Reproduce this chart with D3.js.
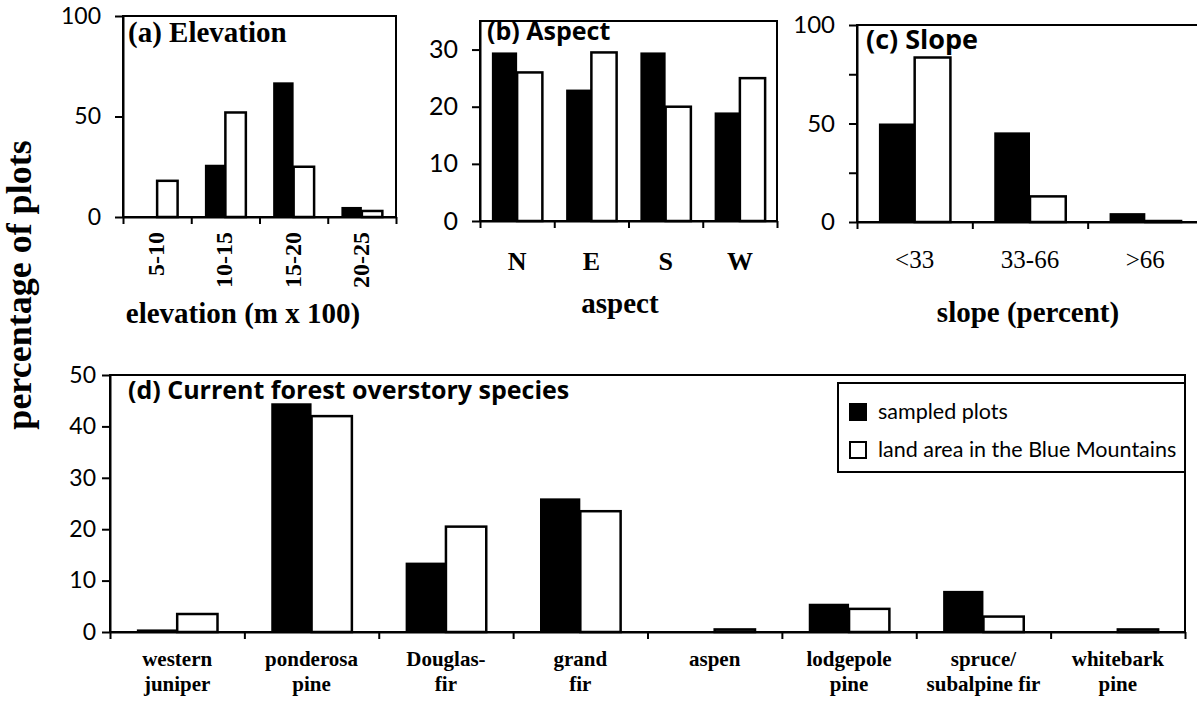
<!DOCTYPE html>
<html>
<head>
<meta charset="utf-8">
<script src="https://cdn.jsdelivr.net/npm/d3@7"></script>
<style>
  body { margin: 0; background: white; }
  svg { display: block; }
</style>
</head>
<body>
<svg id="canvas" width="1197" height="715"></svg>
<script>
// ************************************************************************************** //
// Data (percentage of plots)

var elev_cats = ['5-10', '10-15', '15-20', '20-25'];
var elev_sampled = [0, 26, 67, 5];
var elev_land = [18, 52, 25, 3];

var aspect_cats = ['N', 'E', 'S', 'W'];
var aspect_sampled = [29.5, 23, 29.5, 19];
var aspect_land = [26, 29.5, 20, 25];

var slope_cats = ['<33', '33-66', '>66'];
var slope_sampled = [50, 45.5, 4.5];
var slope_land = [83.5, 13, 0.5];

var species_cats = ['western juniper', 'ponderosa pine', 'Douglas-fir', 'grand fir', 'aspen', 'lodgepole pine', 'spruce/subalpine fir', 'whitebark pine'];
var species_lines = [['western', 'juniper'], ['ponderosa', 'pine'], ['Douglas-', 'fir'], ['grand', 'fir'], ['aspen'], ['lodgepole', 'pine'], ['spruce/', 'subalpine fir'], ['whitebark', 'pine']];
var species_sampled = [0.5, 44.5, 13.5, 26, 0, 5.5, 8, 0];
var species_land = [3.5, 42, 20.5, 23.5, 0.5, 4.5, 3, 0.5];

var series_names = ['sampled plots', 'land area in the Blue Mountains'];

var serif = '"Liberation Serif", "Times New Roman", serif';
var sans = 'Lato, "Open Sans", sans-serif';
var wide_sans = '"Open Sans", Lato, sans-serif';

var svg = d3.select('#canvas');

// ************************************************************************************** //
// One bar panel

function drawPanel(p){
  var n = p.cats.length;
  var x = d3.scaleBand().domain(p.cats).range([p.x0, p.x1]);
  var edges = d3.scaleLinear().domain([0, n]).range([p.x0, p.x1]);
  var y = d3.scaleLinear().domain([0, p.ymax]).range([p.y0, p.ytop]);
  var bw = x.bandwidth() * p.bar;
  var g = svg.append('g');

  // plot area frame
  g.append('rect')
    .attr('x', p.x0).attr('y', y(p.ymax))
    .attr('width', p.x1 - p.x0).attr('height', y(0) - y(p.ymax))
    .style('fill', 'none').style('stroke', '#000').style('stroke-width', 2);

  // bars
  var rows = p.cats.map(function(c, i){ return { cat: c, s: p.sampled[i], l: p.land[i] }; });
  g.selectAll('rect.sampled').data(rows).join('rect')
    .attr('class', 'sampled')
    .attr('x', function(d){ return x(d.cat) + x.bandwidth()/2 - bw; })
    .attr('y', function(d){ return y(d.s); })
    .attr('width', bw)
    .attr('height', function(d){ return y(0) - y(d.s); })
    .style('fill', '#000');
  g.selectAll('rect.land').data(rows).join('rect')
    .attr('class', 'land')
    .attr('x', function(d){ return x(d.cat) + x.bandwidth()/2; })
    .attr('y', function(d){ return y(d.l); })
    .attr('width', bw)
    .attr('height', function(d){ return y(0) - y(d.l); })
    .style('fill', '#fff').style('stroke', '#000').style('stroke-width', 2.5);

  // y axis
  var ya = g.append('g').attr('transform', 'translate(' + p.x0 + ',0)')
    .call(d3.axisLeft(y).tickValues(p.ticks).tickSize(8).tickSizeOuter(0).tickPadding(p.pad || 14)
      .tickFormat(function(v){ return p.labels.indexOf(v) >= 0 ? v : ''; }));
  ya.selectAll('text').style('font-family', sans).style('font-size', p.tickFont + 'px').style('fill', '#000');
  ya.selectAll('line, path').style('stroke', '#000').style('stroke-width', 2);

  // x axis, ticks between categories
  var xa = g.append('g').attr('transform', 'translate(0,' + y(0) + ')')
    .call(d3.axisBottom(edges).ticks(n).tickSize(7).tickSizeOuter(0).tickFormat(''));
  xa.selectAll('line, path').style('stroke', '#000').style('stroke-width', 2);

  // title
  g.append('text').attr('x', p.titleX).attr('y', p.titleY)
    .style('font-family', p.titleFamily).style('font-weight', 'bold').style('font-size', p.titleFont + 'px')
    .text(p.title);

  return { g: g, x: x, y: y };
}

function axisTitle(g, x, y, label){
  g.append('text').attr('x', x).attr('y', y).attr('text-anchor', 'middle')
    .style('font-family', serif).style('font-weight', 'bold').style('font-size', '29px')
    .text(label);
}

// ************************************************************************************** //
// (a) Elevation

var pa = drawPanel({ cats: elev_cats, sampled: elev_sampled, land: elev_land,
  x0: 123, x1: 396, y0: 217, ytop: 16, ymax: 100, bar: 0.3,
  ticks: [0, 50, 100], labels: [0, 50, 100], tickFont: 23,
  title: '(a) Elevation', titleX: 128, titleY: 42, titleFont: 29, titleFamily: serif });

pa.g.selectAll('text.cat').data(elev_cats).join('text')
  .attr('class', 'cat')
  .attr('transform', function(d){ return 'translate(' + (pa.x(d) + pa.x.bandwidth()/2 + 7) + ',232) rotate(-90)'; })
  .attr('text-anchor', 'end')
  .style('font-family', serif).style('font-weight', 'bold').style('font-size', '24px')
  .text(function(d){ return d; });

axisTitle(pa.g, 243, 323, 'elevation (m x 100)');

// ************************************************************************************** //
// (b) Aspect

var pb = drawPanel({ cats: aspect_cats, sampled: aspect_sampled, land: aspect_land,
  x0: 480, x1: 777, y0: 221, ytop: 21, ymax: 35, bar: 0.34,
  ticks: [0, 10, 20, 30], labels: [0, 10, 20, 30], tickFont: 25,
  title: '(b) Aspect', titleX: 487, titleY: 40, titleFont: 25, titleFamily: wide_sans });

pb.g.selectAll('text.cat').data(aspect_cats).join('text')
  .attr('class', 'cat')
  .attr('x', function(d){ return pb.x(d) + pb.x.bandwidth()/2; })
  .attr('y', 270).attr('text-anchor', 'middle')
  .style('font-family', serif).style('font-weight', 'bold').style('font-size', '26px')
  .text(function(d){ return d; });

axisTitle(pb.g, 620, 313, 'aspect');

// ************************************************************************************** //
// (c) Slope

var pc = drawPanel({ cats: slope_cats, sampled: slope_sampled, land: slope_land,
  x0: 857, x1: 1203, y0: 222, ytop: 25, ymax: 100, bar: 0.31,
  ticks: [0, 25, 50, 75, 100], labels: [0, 50, 100], tickFont: 24,
  title: '(c) Slope', titleX: 866, titleY: 49, titleFont: 27, titleFamily: wide_sans });

pc.g.selectAll('text.cat').data(slope_cats).join('text')
  .attr('class', 'cat')
  .attr('x', function(d){ return pc.x(d) + pc.x.bandwidth()/2; })
  .attr('y', 268).attr('text-anchor', 'middle')
  .style('font-family', serif).style('font-size', '25px')
  .text(function(d){ return d; });

axisTitle(pc.g, 1028, 322, 'slope (percent)');

// ************************************************************************************** //
// (d) Current forest overstory species

var pd = drawPanel({ cats: species_cats, sampled: species_sampled, land: species_land,
  x0: 110, x1: 1185, y0: 632, ytop: 375, ymax: 50, bar: 0.3,
  ticks: [0, 10, 20, 30, 40, 50], labels: [0, 10, 20, 30, 40, 50], tickFont: 23, pad: 6,
  title: '(d) Current forest overstory species', titleX: 128, titleY: 399, titleFont: 25, titleFamily: wide_sans });

pd.g.selectAll('text.cat').data(species_cats).join('text')
  .attr('class', 'cat')
  .attr('x', function(d){ return pd.x(d) + pd.x.bandwidth()/2; })
  .attr('y', 666).attr('text-anchor', 'middle')
  .style('font-family', serif).style('font-weight', 'bold').style('font-size', '21px')
  .each(function(d, i){
    var t = d3.select(this);
    species_lines[i].forEach(function(line, k){
      t.append('tspan').attr('x', pd.x(d) + pd.x.bandwidth()/2).attr('dy', k == 0 ? 0 : 25).text(line);
    });
  });

// legend
var leg = svg.append('g').attr('transform', 'translate(838,383)');
leg.append('rect').attr('width', 347).attr('height', 89)
  .style('fill', '#fff').style('stroke', '#000').style('stroke-width', 2);
series_names.forEach(function(name, i){
  leg.append('rect').attr('x', 12).attr('y', 21 + i*38).attr('width', 16).attr('height', 16)
    .style('fill', i == 0 ? '#000' : '#fff').style('stroke', '#000').style('stroke-width', 2);
  leg.append('text').attr('x', 40).attr('y', 36 + i*38)
    .style('font-family', sans).style('font-size', '21.5px')
    .text(name);
});

// shared y title
svg.append('text').attr('transform', 'translate(31,285) rotate(-90)').attr('text-anchor', 'middle')
  .style('font-family', serif).style('font-weight', 'bold').style('font-size', '36px')
  .text('percentage of plots');
</script>
</body>
</html>
